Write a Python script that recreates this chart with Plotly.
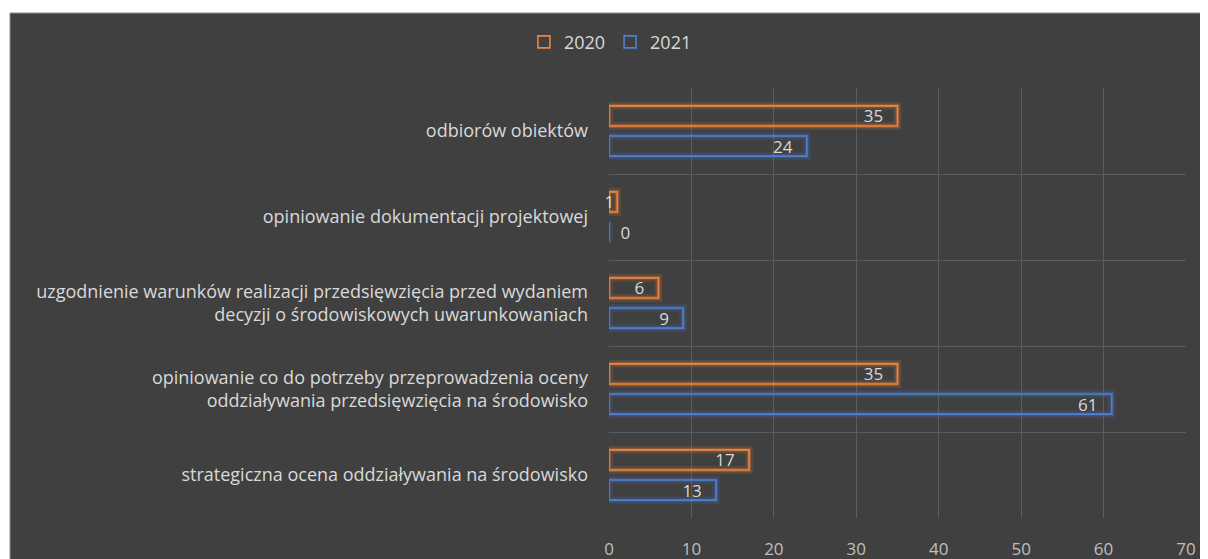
import plotly.graph_objects as go

categories = [
    "odbiorów obiektów",
    "opiniowanie dokumentacji projektowej",
    "uzgodnienie warunków realizacji przedsięwzięcia przed wydaniem<br>decyzji o środowiskowych uwarunkowaniach",
    "opiniowanie co do potrzeby przeprowadzenia oceny<br>oddziaływania przedsięwzięcia na środowisko",
    "strategiczna ocena oddziaływania na środowisko",
]
values_2020 = [35, 1, 6, 35, 17]
values_2021 = [24, 0, 9, 61, 13]
series_names = ["2020", "2021"]
x_ticks = [0, 10, 20, 30, 40, 50, 60, 70]

ORANGE = "#F08438"
BLUE = "#5080D0"
TXT = "#D9D9D9"
BG = "#404040"
FONT = "Open Sans"

fig = go.Figure()

# glow layers
glow_specs = [(8, 0.14), (4, 0.30)]
for w, a in glow_specs:
    for vals, name, rgb in [(values_2020, series_names[0], "237,125,49"),
                            (values_2021, series_names[1], "68,114,196")]:
        fig.add_trace(go.Bar(
            y=categories, x=vals, orientation="h", name=name, offsetgroup=name,
            marker=dict(color="rgba(0,0,0,0)", line=dict(color=f"rgba({rgb},{a})", width=w)),
            showlegend=False, hoverinfo="skip",
        ))

for vals, name, col in [(values_2020, series_names[0], ORANGE), (values_2021, series_names[1], BLUE)]:
    pos = ["inside" if v > 0 else "outside" for v in vals]
    labels = []
    for v in vals:
        if v >= 5:
            labels.append(f"{v}\u2002\u2009")
        elif v == 0:
            labels.append(f"\u2002{v}")
        else:
            labels.append(str(v))
    fig.add_trace(go.Bar(
        y=categories, x=vals, orientation="h", name=name, offsetgroup=name,
        marker=dict(color="rgba(0,0,0,0)", line=dict(color=col, width=1.6)),
        text=labels, textposition=pos, textangle=0,
        insidetextanchor="end", constraintext="none",
        textfont=dict(family=FONT, size=17, color=TXT),
        cliponaxis=False,
    ))

fig.update_layout(
    width=1200, height=551,
    barmode="group", bargap=0.30, bargroupgap=0.33,
    paper_bgcolor="white", plot_bgcolor="rgba(0,0,0,0)",
    margin=dict(l=601, r=22, t=80, b=41, autoexpand=False),
    font=dict(family=FONT, color=TXT, size=15),
    legend=dict(orientation="h", x=0.502, xref="container", xanchor="center",
                y=0.938, yref="container", yanchor="middle",
                font=dict(family=FONT, size=18, color=TXT),
                bgcolor="rgba(0,0,0,0)", traceorder="normal",
                itemwidth=30),
    shapes=[dict(type="rect", layer="below", xref="paper", yref="paper",
                 xsizemode="pixel", ysizemode="pixel", xanchor=0, yanchor=0,
                 x0=-599, x1=610, y0=-60, y1=505,
                 fillcolor=BG, line=dict(color="#8C8C8C", width=1))],
)
fig.update_xaxes(range=[0, 70], tickvals=x_ticks, showgrid=True, automargin=False,
                 gridcolor="#5C5C5C", gridwidth=1, zeroline=False,
                 showline=False, tickfont=dict(family=FONT, size=17, color="#BFBFBF"),
                 ticklabelstandoff=19)
fig.update_yaxes(autorange="reversed", tickson="boundaries", showgrid=True, automargin=False,
                 gridcolor="#5C5C5C", gridwidth=1, ticks="", showline=False,
                 tickfont=dict(family=FONT, size=18, color=TXT),
                 ticklabelstandoff=20)

fig.write_html("out.html")
